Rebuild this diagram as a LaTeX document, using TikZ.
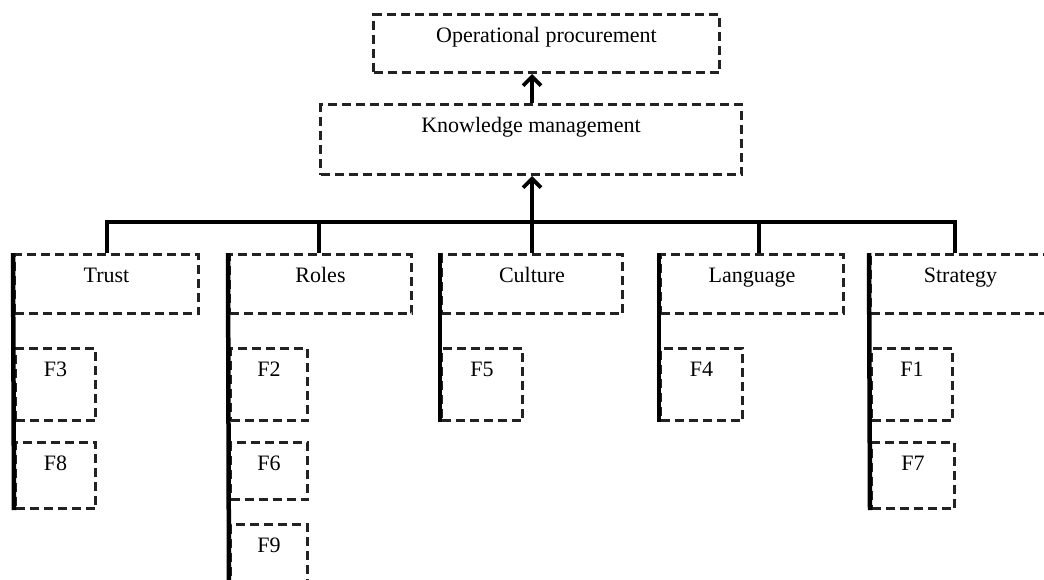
\documentclass[tikz,border=0pt]{standalone}
\usepackage{fontspec}
\setmainfont{Liberation Serif}
\usetikzlibrary{arrows.meta}
\definecolor{dashgray}{HTML}{222222}
\tikzset{
  box/.style={draw=dashgray, line width=3pt, dash pattern=on 9pt off 5pt,
    rectangle, inner sep=0pt, anchor=north west},
  lab/.style={anchor=base, yshift=-29pt, font=\fontsize{22}{26}\selectfont, text=black, inner sep=0pt},
  thickline/.style={line width=4.5pt, black},
  uparrow/.style={line width=4.5pt, black, -{Straight Barb[length=9pt,width=18pt,line width=3.8pt]}}
}
\newcommand{\bx}[6]{% name, x, y, w, h, text
  \node[box, minimum width=#4pt, minimum height=#5pt, label={[lab]north:#6}] (#1) at (#2,#3) {};}
\begin{document}
\begin{tikzpicture}[x=1pt,y=-1pt]
\useasboundingbox (0,0) rectangle (1044,579);
% top boxes
\bx{op}{372}{13}{346}{58}{Operational procurement}
\bx{km}{319}{103}{421}{70}{Knowledge management}
% category boxes
\bx{trust}{13}{253}{184}{59}{Trust}
\bx{roles}{228}{253}{182}{59}{Roles}
\bx{culture}{440}{253}{181}{59}{Culture}
\bx{language}{659}{253}{183}{59}{Language}
\bx{strategy}{869}{253}{180}{59}{Strategy}
% factor boxes
\bx{f3}{14}{347}{80}{72}{F3}
\bx{f8}{14}{441}{80}{66}{F8}
\bx{f2}{229}{347}{77}{72}{F2}
\bx{f6}{229}{441}{77}{57}{F6}
\bx{f9}{229}{523}{77}{70}{F9}
\bx{f5}{440}{347}{81}{72}{F5}
\bx{f4}{659}{347}{82}{72}{F4}
\bx{f1}{870}{347}{81}{72}{F1}
\bx{f7}{870}{441}{83}{66}{F7}
% tree bar
\coordinate (d1) at (107,222);
\coordinate (d2) at (319,222);
\coordinate (spine) at (532,222);
\coordinate (d4) at (759,222);
\coordinate (d5) at (955,222);
\draw[thickline] (d1 |- trust.north) -- (d1) -- (d5) -- (d5 |- strategy.north);
\draw[thickline] (d2) -- (d2 |- roles.north);
\draw[thickline] (spine) -- (spine |- culture.north);
\draw[thickline] (d4) -- (d4 |- language.north);
% arrows
\draw[uparrow] (spine) -- (spine |- km.south);
\draw[uparrow] (spine |- km.north) -- (spine |- op.south);
% left spines
\draw[thickline] (trust.north west) -- (f8.south west);
\draw[thickline] (roles.north west) -- (f9.south west);
\draw[thickline] (culture.north west) -- (f5.south west);
\draw[thickline] (language.north west) -- (f4.south west);
\draw[thickline] (strategy.north west) -- (f7.south west);
\end{tikzpicture}
\end{document}
